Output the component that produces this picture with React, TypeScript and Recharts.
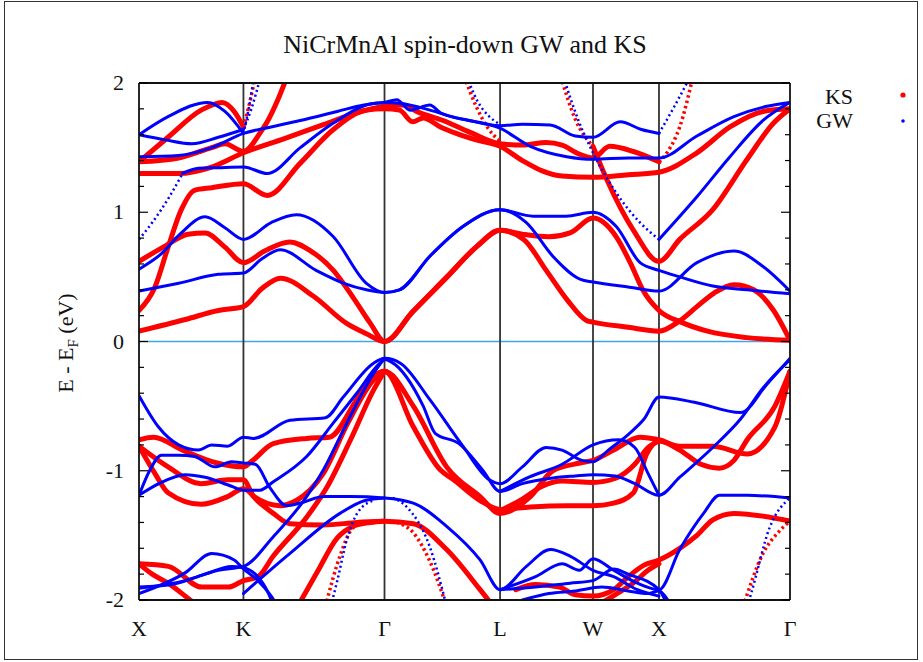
import React from "react";
import { LineChart, Line, XAxis, YAxis, ReferenceLine } from "recharts";

// --- k-path X-K-Γ-L-W-X-Γ (units of 2π/a) ---
const kPoints = [0, 0.79, 1.857, 2.731, 3.434, 3.933, 4.924];
const kLabels = ["X", "K", "Γ", "L", "W", "X", "Γ"];

// --- energy axis ---
const yTicks = [-2, -1.8, -1.6, -1.4, -1.2, -1, -0.8, -0.6, -0.4, -0.2, 0, 0.2, 0.4, 0.6, 0.8, 1, 1.2, 1.4, 1.6, 1.8, 2];
const yLabels = [-2, -1, 0, 1, 2];

// --- KS bands, [k, E - EF] ---
const ks1 = [[0, 0.08], [0.35, 0.17], [0.6, 0.24], [0.79, 0.27], [0.93, 0.41], [1.07, 0.49], [1.32, 0.35], [1.57, 0.14], [1.72, 0.06], [1.857, 0.0], [2.07, 0.23], [2.33, 0.5], [2.56, 0.74], [2.731, 0.86], [2.91, 0.79], [3.08, 0.55], [3.24, 0.32], [3.39, 0.16], [3.434, 0.15], [3.7, 0.11], [3.933, 0.08], [4.09, 0.16], [4.22, 0.27], [4.35, 0.375], [4.5, 0.44], [4.65, 0.4], [4.8, 0.24], [4.924, 0.01]];
const ks2 = [[0, 0.62], [0.2, 0.74], [0.37, 0.83], [0.5, 0.84], [0.65, 0.73], [0.79, 0.61], [0.95, 0.7], [1.14, 0.77], [1.3, 0.7], [1.47, 0.55], [1.62, 0.34], [1.75, 0.14], [1.857, 0.0], [2.07, 0.23], [2.33, 0.5], [2.56, 0.74], [2.731, 0.86], [2.9, 0.83], [3.1, 0.81], [3.26, 0.84], [3.434, 0.955], [3.61, 0.81], [3.72, 0.6], [3.81, 0.4], [3.933, 0.24], [4.1, 0.15], [4.3, 0.08], [4.6, 0.03], [4.924, 0.01]];
const ks3 = [[0, 0.24], [0.12, 0.42], [0.22, 0.73], [0.32, 1.02], [0.42, 1.17], [0.55, 1.19], [0.79, 1.22], [0.97, 1.13], [1.22, 1.38], [1.47, 1.64], [1.72, 1.79], [1.857, 1.8], [1.97, 1.79], [2.07, 1.7], [2.15, 1.73], [2.28, 1.66], [2.4, 1.61], [2.55, 1.56], [2.731, 1.51], [2.9, 1.4], [3.05, 1.32], [3.2, 1.28], [3.434, 1.27], [3.7, 1.29], [3.933, 1.31], [4.22, 1.46], [4.47, 1.66], [4.72, 1.78], [4.924, 1.8]];
const ks4 = [[0, 1.3], [0.3, 1.3], [0.55, 1.35], [0.79, 1.46], [1.1, 1.57], [1.4, 1.68], [1.65, 1.77], [1.857, 1.82], [2.0, 1.83], [2.1, 1.78], [2.3, 1.71], [2.5, 1.62], [2.731, 1.53], [2.9, 1.52], [3.08, 1.54], [3.2, 1.52], [3.33, 1.45], [3.434, 1.42], [3.56, 1.51], [3.74, 1.47], [3.933, 1.39]];
const ks5 = [[0, 1.39], [0.22, 1.58], [0.47, 1.79], [0.63, 1.85], [0.72, 1.78], [0.79, 1.66]];
const ks6 = [[0, 1.39], [0.3, 1.42], [0.55, 1.5], [0.65, 1.53], [0.79, 1.47], [0.92, 1.62], [0.97, 1.7], [1.05, 1.87], [1.12, 2.05]];
const ks7 = [[3.434, 1.51], [3.54, 1.25], [3.74, 0.86], [3.933, 0.62], [4.09, 0.79], [4.34, 1.02], [4.6, 1.41], [4.8, 1.69], [4.924, 1.8]];
const ksV1 = [[0, -0.76], [0.11, -0.74], [0.33, -0.84], [0.59, -0.94], [0.79, -0.97], [0.86, -0.92], [1.016, -0.79], [1.268, -0.75], [1.44, -0.74], [1.647, -0.45], [1.772, -0.27], [1.857, -0.23], [2.075, -0.5], [2.327, -0.97], [2.58, -1.2], [2.731, -1.33], [2.96, -1.2], [3.13, -1.0], [3.336, -0.94], [3.434, -0.92], [3.59, -0.84], [3.79, -0.74], [3.933, -0.76], [4.09, -0.81], [4.34, -0.81], [4.6, -0.87], [4.81, -0.66], [4.924, -0.23]];
const ksV2 = [[0, -0.81], [0.22, -0.97], [0.47, -1.1], [0.67, -1.07], [0.79, -1.07], [0.87, -1.2], [1.067, -1.27], [1.19, -1.23], [1.394, -1.02], [1.58, -0.63], [1.772, -0.3], [1.857, -0.23], [2.075, -0.66], [2.28, -0.995], [2.38, -1.07], [2.58, -1.23], [2.731, -1.3], [2.96, -1.28], [3.235, -1.27], [3.434, -1.27], [3.59, -1.25], [3.74, -1.17], [3.84, -0.87], [3.933, -0.77], [4.09, -0.84], [4.25, -0.95], [4.39, -0.98], [4.5, -0.92], [4.6, -0.76], [4.81, -0.5], [4.924, -0.23]];
const ksV3 = [[0, -0.81], [0.12, -1.02], [0.22, -1.17], [0.47, -1.26], [0.67, -1.2], [0.79, -1.14], [0.915, -1.25], [1.016, -1.33], [1.142, -1.41], [1.394, -1.42], [1.65, -1.4], [1.857, -1.39], [2.075, -1.41], [2.327, -1.61], [2.58, -1.92], [2.68, -2.05]];
const ksV4 = [[2.731, -1.31], [2.9, -1.22], [3.05, -1.12], [3.2, -1.08], [3.434, -1.09], [3.6, -1.06], [3.75, -0.95], [3.85, -0.82], [3.933, -0.77]];
const ksV5 = [[0, -1.72], [0.222, -1.74], [0.474, -1.9], [0.676, -1.9], [0.79, -1.85], [0.9, -1.82], [1.016, -1.66], [1.268, -1.36], [1.42, -1.13], [1.6, -0.76], [1.772, -0.38], [1.857, -0.23]];
const ksV6 = [[1.2, -2.05], [1.35, -1.78], [1.5, -1.52], [1.62, -1.43], [1.75, -1.4], [1.857, -1.39]];
const ksV7 = [[0, -1.72], [0.1, -1.8], [0.22, -1.87], [0.35, -1.97], [0.45, -2.05]];
const ksV8 = [[2.85, -1.92], [3.0, -1.88], [3.18, -1.9], [3.3, -1.96], [3.434, -1.97], [3.59, -1.92], [3.7, -1.82], [3.82, -1.73], [3.933, -1.69], [4.09, -1.6], [4.22, -1.5], [4.34, -1.38], [4.5, -1.33], [4.924, -1.39]];
const ksV9 = [[3.45, -2.05], [3.6, -1.96], [3.75, -1.86], [3.85, -1.77], [3.933, -1.72]];
// sparse, steep KS bands
const ksD1 = [[0.79, 1.66], [0.84, 1.86], [0.88, 2.05]];
const ksD2 = [[2.46, 2.05], [2.55, 1.82], [2.64, 1.65], [2.731, 1.55]];
const ksD3 = [[3.19, 2.05], [3.3, 1.72], [3.434, 1.51]];
const ksD4 = [[3.933, 1.39], [4.0, 1.47], [4.09, 1.66], [4.19, 2.05]];
const ksD5 = [[1.41, -2.05], [1.52, -1.66], [1.62, -1.44], [1.72, -1.4]];
const ksD6 = [[1.95, -1.4], [2.075, -1.48], [2.2, -1.7], [2.327, -2.05]];
const ksD7 = [[4.57, -2.05], [4.72, -1.64], [4.85, -1.46], [4.924, -1.39]];

// --- GW bands, [k, E - EF] ---
const gw1 = [[0, 0.39], [0.3, 0.45], [0.6, 0.52], [0.79, 0.53], [0.93, 0.64], [1.067, 0.71], [1.34, 0.55], [1.55, 0.45], [1.72, 0.4], [1.857, 0.38], [1.97, 0.4], [2.2, 0.66], [2.45, 0.89], [2.731, 1.02], [2.93, 0.92], [3.13, 0.66], [3.34, 0.48], [3.434, 0.46], [3.71, 0.42], [3.933, 0.39], [4.22, 0.61], [4.5, 0.7], [4.72, 0.58], [4.924, 0.39]];
const gw2 = [[0, 0.56], [0.17, 0.68], [0.31, 0.83], [0.5, 0.965], [0.65, 0.88], [0.79, 0.79], [1.0, 0.92], [1.19, 0.98], [1.47, 0.81], [1.72, 0.45], [1.857, 0.38], [1.97, 0.4], [2.2, 0.66], [2.45, 0.89], [2.731, 1.02], [2.98, 0.97], [3.23, 0.97], [3.434, 1.0], [3.61, 0.89], [3.79, 0.61], [3.933, 0.55], [4.09, 0.5], [4.34, 0.43], [4.6, 0.4], [4.924, 0.37]];
const gw3 = [[0.33, 1.3], [0.45, 1.34], [0.6, 1.345], [0.79, 1.35], [0.97, 1.3], [1.22, 1.5], [1.47, 1.69], [1.72, 1.83], [1.857, 1.85], [1.95, 1.87], [2.05, 1.79], [2.2, 1.83], [2.28, 1.77], [2.5, 1.71], [2.731, 1.67], [2.9, 1.68], [3.11, 1.675], [3.3, 1.59], [3.434, 1.58], [3.64, 1.7], [3.8, 1.64], [3.933, 1.61]];
const gw4 = [[0, 1.43], [0.3, 1.44], [0.55, 1.5], [0.79, 1.61], [1.0, 1.66], [1.22, 1.71], [1.5, 1.78], [1.7, 1.83], [1.857, 1.85], [2.0, 1.84], [2.2, 1.79], [2.4, 1.73], [2.731, 1.65], [2.96, 1.51], [3.235, 1.43], [3.434, 1.41], [3.7, 1.42], [3.933, 1.42], [4.22, 1.59], [4.5, 1.74], [4.75, 1.82], [4.924, 1.85]];
const gw5 = [[0, 1.6], [0.22, 1.74], [0.52, 1.85], [0.65, 1.78], [0.79, 1.61]];
const gw6 = [[0, 1.6], [0.2, 1.56], [0.4, 1.53], [0.6, 1.58], [0.79, 1.64]];
const gw7 = [[3.933, 0.79], [4.22, 1.12], [4.47, 1.43], [4.72, 1.71], [4.924, 1.85]];
const gwV1 = [[0, -0.42], [0.146, -0.66], [0.3, -0.8], [0.45, -0.84], [0.55, -0.8], [0.67, -0.81], [0.79, -0.74], [0.865, -0.75], [1.142, -0.61], [1.41, -0.59], [1.545, -0.43], [1.772, -0.17], [1.857, -0.13], [1.98, -0.17], [2.2, -0.45], [2.45, -0.81], [2.65, -1.07], [2.731, -1.1], [2.9, -0.97], [3.08, -0.82], [3.2, -0.84], [3.35, -0.92], [3.434, -0.93], [3.55, -0.84], [3.7, -0.72], [3.82, -0.6], [3.933, -0.43], [4.2, -0.47], [4.55, -0.55], [4.75, -0.33], [4.924, -0.13]];
const gwV2 = [[0, -1.19], [0.15, -1.1], [0.35, -1.03], [0.5, -1.05], [0.7, -1.12], [0.79, -1.15], [0.915, -1.15], [1.016, -1.085], [1.268, -0.89], [1.47, -0.63], [1.647, -0.4], [1.82, -0.17], [1.857, -0.14], [1.91, -0.16], [2.15, -0.5], [2.24, -0.71], [2.42, -0.79], [2.6, -0.995], [2.731, -1.16], [2.9, -1.1], [3.1, -1.06], [3.3, -1.04], [3.434, -1.03], [3.6, -1.04], [3.75, -1.1], [3.933, -1.19], [4.09, -1.05], [4.34, -0.82], [4.55, -0.6], [4.72, -0.36], [4.924, -0.14]];
const gwV3 = [[0, -1.19], [0.08, -1.0], [0.17, -0.88], [0.3, -0.88], [0.42, -0.89], [0.575, -0.97], [0.7, -0.93], [0.79, -0.94], [0.88, -0.95], [0.99, -1.13], [1.117, -1.27], [1.22, -1.25], [1.4, -1.2], [1.6, -1.2], [1.857, -1.21], [2.075, -1.25], [2.327, -1.43], [2.58, -1.69], [2.731, -1.92], [2.93, -1.74], [3.11, -1.61], [3.26, -1.66], [3.434, -1.77], [3.59, -1.82], [3.77, -1.92], [3.933, -1.97]];
const gwV4 = [[2.731, -1.16], [2.95, -1.05], [3.2, -0.95], [3.434, -0.8], [3.63, -0.76], [3.75, -0.82], [3.85, -1.02], [3.933, -1.19]];
const gwV5 = [[0, -1.91], [0.348, -1.85], [0.6, -1.77], [0.79, -1.74], [1.016, -1.51], [1.268, -1.2], [1.394, -0.995], [1.52, -0.74], [1.647, -0.48], [1.772, -0.25], [1.857, -0.13]];
const gwV6 = [[0, -1.95], [0.348, -1.79], [0.55, -1.64], [0.72, -1.69], [0.79, -1.76], [0.9, -1.85], [1.0, -1.97], [1.05, -2.05]];
const gwV7 = [[0, -1.9], [0.25, -1.88], [0.5, -1.8], [0.7, -1.74], [0.79, -1.75], [0.88, -1.8], [0.98, -1.95], [1.02, -2.05]];
const gwV8 = [[0.79, -1.95], [1.142, -1.64], [1.52, -1.33], [1.71, -1.23], [1.857, -1.21]];
const gwV9 = [[2.731, -1.92], [3.0, -1.82], [3.2, -1.72], [3.33, -1.77], [3.434, -1.68], [3.59, -1.77], [3.77, -1.87], [3.933, -1.92], [4.09, -1.61], [4.27, -1.33], [4.39, -1.19], [4.6, -1.19], [4.924, -1.21]];
const gwV10 = [[2.731, -1.92], [3.0, -1.9], [3.26, -1.87], [3.434, -1.85], [3.59, -1.76], [3.7, -1.8], [3.933, -1.92], [4.0, -2.05]];
const gwV11 = [[2.9, -2.0], [3.1, -1.95], [3.3, -1.93], [3.5, -1.9], [3.7, -1.93], [3.85, -1.95], [3.933, -1.93], [4.0, -2.0]];
// sparse, steep GW bands
const gwD1 = [[0.79, 1.61], [0.84, 1.86], [0.87, 2.05]];
const gwD2 = [[0.79, 1.64], [0.85, 1.8], [0.92, 2.05]];
const gwD3 = [[0, 0.79], [0.1, 0.92], [0.23, 1.12], [0.33, 1.3]];
const gwD4 = [[2.48, 2.05], [2.56, 1.86], [2.65, 1.74], [2.731, 1.68]];
const gwD5 = [[3.21, 2.05], [3.32, 1.72], [3.434, 1.46], [3.61, 1.15], [3.79, 0.92], [3.933, 0.79]];
const gwD6 = [[3.933, 1.61], [4.05, 1.82], [4.17, 2.05]];
const gwD7 = [[1.45, -2.05], [1.5, -1.85], [1.57, -1.54], [1.65, -1.33], [1.77, -1.23]];
const gwD8 = [[1.92, -1.21], [2.025, -1.28], [2.2, -1.59], [2.327, -2.05]];
const gwD9 = [[4.6, -2.05], [4.63, -1.95], [4.77, -1.44], [4.924, -1.21]];

const ksSolid = [ks1, ks2, ks3, ks4, ks5, ks6, ks7, ksV1, ksV2, ksV3, ksV4, ksV5, ksV6, ksV7, ksV8, ksV9];
const ksDotted = [ksD1, ksD2, ksD3, ksD4, ksD5, ksD6, ksD7];
const gwSolid = [gw1, gw2, gw3, gw4, gw5, gw6, gw7, gwV1, gwV2, gwV3, gwV4, gwV5, gwV6, gwV7, gwV8, gwV9, gwV10, gwV11];
const gwDotted = [gwD1, gwD2, gwD3, gwD4, gwD5, gwD6, gwD7, gwD8, gwD9];

const FONT = "Liberation Serif, DejaVu Serif, serif";
const PLOT_L = 139;
const PLOT_R = 790;
const RED = "#ff0000";
const BLUE = "#0000ff";

const rows = (band: number[][]) => band.map(([k, e]) => ({ k, e }));

// gnuplot-style inward ticks on both sides, labels only on whole eV
const YTick = (props: any) => {
  const { y, payload } = props;
  const v = payload.value;
  const major = yLabels.includes(v);
  const len = major ? 9 : 5;
  return (
    <g>
      <line x1={PLOT_L} x2={PLOT_L + len} y1={y} y2={y} stroke="#000" strokeWidth={1.2} />
      <line x1={PLOT_R} x2={PLOT_R - len} y1={y} y2={y} stroke="#000" strokeWidth={1.2} />
      {major && (
        <text x={124} y={y + 7} textAnchor="end" fontFamily={FONT} fontSize={22} fill="#111">
          {String(v)}
        </text>
      )}
    </g>
  );
};

const XTick = (props: any) => {
  const { x, index } = props;
  return (
    <text x={x} y={636} textAnchor="middle" fontFamily={FONT} fontSize={22} fill="#111">
      {kLabels[index]}
    </text>
  );
};

export default function App() {
  return (
    <div style={{ position: "absolute", left: 0, top: 0, width: 923, height: 662, background: "#fff", overflow: "hidden" }}>
      <div style={{ position: "absolute", left: 4, top: 1, width: 914, height: 659, boxSizing: "border-box", border: "1.5px solid #333" }} />
      <svg width={923} height={662} style={{ position: "absolute", left: 0, top: 0 }}>
        <text x={465} y={53} textAnchor="middle" fontFamily={FONT} fontSize={26} fill="#111">
          NiCrMnAl spin-down GW and KS
        </text>
        <text transform="translate(73 343) rotate(-90)" textAnchor="middle" fontFamily={FONT} fontSize={22} fill="#111">
          <tspan>E - E</tspan>
          <tspan fontSize={15} dy={5}>F</tspan>
          <tspan dy={-5}> (eV)</tspan>
        </text>
        <text x={853} y={104} textAnchor="end" fontFamily={FONT} fontSize={22} fill="#111">KS</text>
        <text x={853} y={128} textAnchor="end" fontFamily={FONT} fontSize={22} fill="#111">GW</text>
        <circle cx={903} cy={95} r={2.6} fill={RED} />
        <circle cx={903} cy={121} r={1.8} fill={BLUE} />
      </svg>
      <div style={{ position: "absolute", left: 0, top: 0 }}>
        <LineChart width={923} height={662} margin={{ top: 83, right: 923 - PLOT_R, bottom: 32, left: PLOT_L - 40 }}>
          <XAxis
            dataKey="k"
            type="number"
            domain={[0, 4.924]}
            allowDataOverflow
            ticks={kPoints}
            tick={<XTick />}
            tickLine={false}
            axisLine={false}
            height={30}
            interval={0}
          />
          <YAxis
            type="number"
            domain={[-2, 2]}
            allowDataOverflow
            ticks={yTicks}
            tick={<YTick />}
            tickLine={false}
            axisLine={false}
            width={40}
            interval={0}
          />
          <ReferenceLine y={0} stroke="#3fa7e6" strokeWidth={1.5} />
          {kPoints.slice(1, -1).map((k, i) => (
            <ReferenceLine key={"v" + i} x={k} stroke="#333" strokeWidth={1.8} />
          ))}
          {ksSolid.map((b, i) => (
            <Line key={"ks" + i} data={rows(b)} dataKey="e" type="monotone" stroke={RED} strokeWidth={5} strokeLinecap="round" dot={false} isAnimationActive={false} />
          ))}
          {ksDotted.map((b, i) => (
            <Line key={"ksd" + i} data={rows(b)} dataKey="e" type="monotone" stroke={RED} strokeWidth={3.5} strokeDasharray="2.5 3" dot={false} isAnimationActive={false} />
          ))}
          {gwSolid.map((b, i) => (
            <Line key={"gw" + i} data={rows(b)} dataKey="e" type="monotone" stroke={BLUE} strokeWidth={3} strokeLinecap="round" dot={false} isAnimationActive={false} />
          ))}
          {gwDotted.map((b, i) => (
            <Line key={"gwd" + i} data={rows(b)} dataKey="e" type="monotone" stroke={BLUE} strokeWidth={2.5} strokeDasharray="2 3" dot={false} isAnimationActive={false} />
          ))}
          <ReferenceLine x={0} stroke="#111" strokeWidth={1.8} />
          <ReferenceLine x={4.924} stroke="#111" strokeWidth={1.8} />
          <ReferenceLine y={2} stroke="#111" strokeWidth={1.8} />
          <ReferenceLine y={-2} stroke="#111" strokeWidth={1.8} />
        </LineChart>
      </div>
    </div>
  );
}
